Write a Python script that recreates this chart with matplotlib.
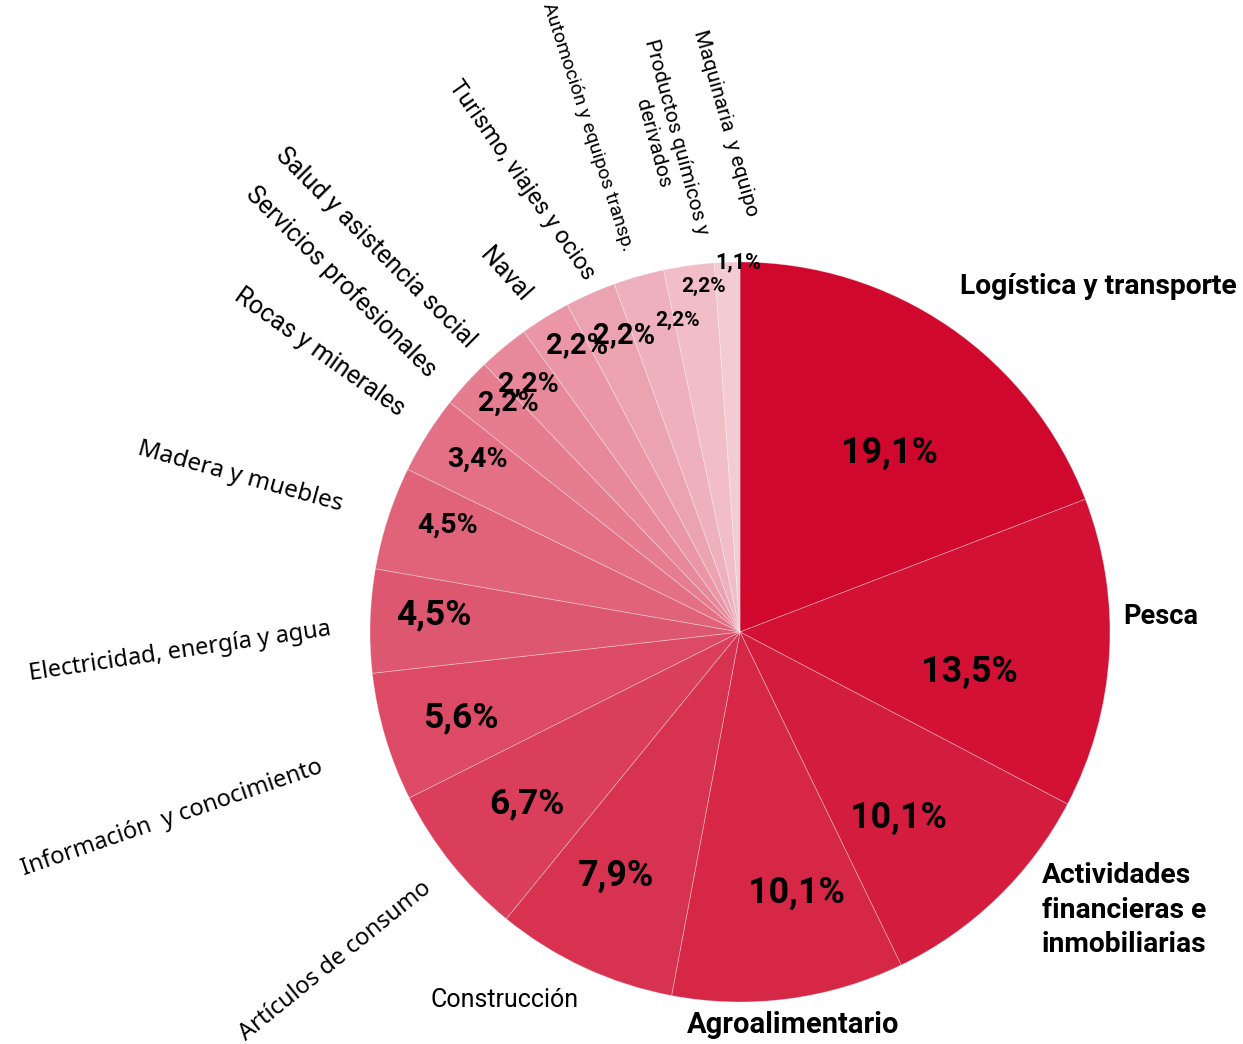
import numpy as np
import matplotlib.pyplot as plt
from matplotlib.colors import to_rgb

W, H = 1243, 1044

# sectores y porcentajes (en el sentido de las agujas desde las 12)
sectores = ["Logística y transporte", "Pesca",
            "Actividades\nfinancieras e\ninmobiliarias", "Agroalimentario",
            "Construcción", "Artículos de consumo",
            "Información  y conocimiento", "Electricidad, energía y agua",
            "Madera y muebles", "Rocas y minerales",
            "Servicios profesionales", "Salud y asistencia social", "Naval",
            "Turismo, viajes y ocios", "Automoción y equipos transp.",
            "Productos químicos y\nderivados", "Maquinaria  y equipo"]
porcentajes = [19.1, 13.5, 10.1, 10.1, 7.9, 6.7, 5.6, 4.5, 4.5, 3.4,
               2.2, 2.2, 2.2, 2.2, 2.2, 2.2, 1.1]
etiquetas_pct = ["19,1%", "13,5%", "10,1%", "10,1%", "7,9%", "6,7%", "5,6%",
                 "4,5%", "4,5%", "3,4%", "2,2%", "2,2%", "2,2%", "2,2%",
                 "2,2%", "2,2%", "1,1%"]

NARROW = ["Roboto", "DejaVu Sans"]
WIDE = ["Noto Sans", "DejaVu Sans"]

# colores: de rojo intenso a rosa palido
c0 = np.array(to_rgb("#d0082d"))
c1 = np.array(to_rgb("#f3cbd3"))
n = len(porcentajes)
colores = [c0 + (c1 - c0) * (i / (n - 1)) ** 1.1 for i in range(n)]

fig = plt.figure(figsize=(W / 100, H / 100), dpi=100)
ax = fig.add_axes([0, 0, 1, 1])

cx, cy, R = 740, H - 632, 370
wedges, _ = ax.pie(porcentajes, colors=colores, startangle=90, counterclock=False,
                   center=(cx, cy), radius=R, frame=True,
                   wedgeprops=dict(edgecolor=(1, 1, 1, 0.35), linewidth=0.6))
ax.set_xlim(0, W)
ax.set_ylim(0, H)
ax.set_aspect("equal")
ax.axis("off")

# porcentajes dentro de la tarta: radio relativo, desplazamiento angular, tamaño
r_pct = [0.63, 0.63, 0.66, 0.72, 0.74, 0.74, 0.79, 0.83, 0.84, 0.85,
         0.88, 0.88, 0.89, 0.86, 0.86, 0.94, 1.0]
d_ang = [-5.4, -6.6, -3.6, 4.6, -2.0, 0.1, 0.5, -1.5, -2.1, -1.2,
         -2.4, 0.8, -2.2, -2.5, -4.6, -1.9, -1.7]
fs_pct = [25.8, 25.8, 25.8, 25.8, 25.8, 25.5, 25.5, 25.5, 20.5, 20.5, 20.5,
          20.5, 21, 21, 15, 15, 15.5]
for w, txt, rr, da, fs in zip(wedges, etiquetas_pct, r_pct, d_ang, fs_pct):
    a = np.deg2rad((w.theta1 + w.theta2) / 2 + da)
    ax.text(cx + rr * R * np.cos(a), cy + rr * R * np.sin(a), txt,
            ha="center", va="center", fontsize=fs, fontweight="bold",
            family=NARROW, color="black")


# nombres de los sectores (posicion en pixeles, rotacion, estilo)
def px(x, y):
    return x, H - y


lab_pos = [(1098, 287), (1161, 616), (1042, 910), (793, 1025), (505, 1000),
           (335, 961), (172, 818), (180, 652), (240, 477), (320, 352),
           (341, 282), (376, 248), (505, 275), (522, 180), (588, 127),
           (665, 140), (726, 123)]
lab_rot = [0, 0, 0, 0, 0, 39, 19, 8.5, -15.5, -35.5, -45, -45, -48, -55, -72,
           -75, -74]
lab_fs = [20.3, 19.5, 20.3, 21, 18, 17, 17, 17, 17.5, 18, 18, 18, 18, 17,
          14, 15, 15]
lab_ls = [1.15, 1.15, 1.35, 1.15, 1.15, 1.15, 1.15, 1.15, 1.15, 1.15, 1.15,
          1.15, 1.15, 1.15, 1.15, 1.35, 1.15]
for i, (name, (x, y), rot, fs, ls) in enumerate(
        zip(sectores, lab_pos, lab_rot, lab_fs, lab_ls)):
    bold = i < 4
    fam = WIDE if i in (5, 6, 7, 8) else NARROW
    ha = "left" if i == 2 else "center"
    ax.text(*px(x, y), name, ha=ha, va="center", rotation=rot,
            rotation_mode="anchor", fontsize=fs,
            fontweight="bold" if bold else "normal", family=fam,
            linespacing=ls, multialignment="left" if i == 2 else "center")

fig.savefig("out.png", dpi=100, facecolor="white")
